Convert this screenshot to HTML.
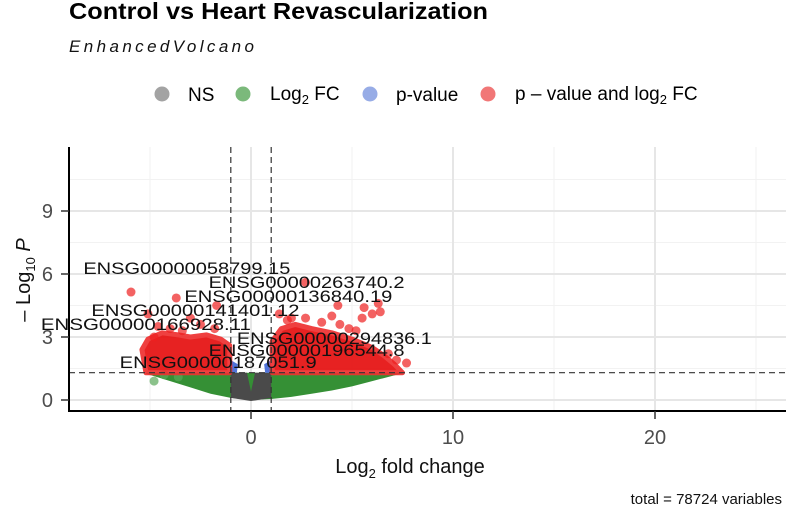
<!DOCTYPE html>
<html><head><meta charset="utf-8"><style>
body{margin:0;background:#fff;}
svg{display:block;font-family:"Liberation Sans",sans-serif;}
</style></head><body>
<svg id="chart" width="786" height="512" viewBox="0 0 786 512">
<text x="69" y="19" font-size="23" font-weight="bold" fill="#000" textLength="419" lengthAdjust="spacingAndGlyphs">Control vs Heart Revascularization</text>
<text x="69" y="52" font-size="17" font-style="italic" fill="#111" textLength="185" lengthAdjust="spacing">EnhancedVolcano</text>
<g>
 <g><circle cx="162" cy="94" r="7.5" fill="#8c8c8c" opacity="0.8"/><text x="188" y="101" font-size="19">NS</text></g>
 <g><circle cx="243" cy="94" r="7.5" fill="#5aa85a" opacity="0.8"/><text x="270" y="100" font-size="19">Log<tspan font-size="13" dy="4">2</tspan><tspan dy="-4"> FC</tspan></text></g>
 <g><circle cx="370" cy="94" r="7.5" fill="#7d97e0" opacity="0.8"/><text x="396" y="101" font-size="19">p-value</text></g>
 <g><circle cx="488" cy="94" r="7.5" fill="#ee5555" opacity="0.8"/><text x="515" y="100" font-size="19">p – value and log<tspan font-size="13" dy="4">2</tspan><tspan dy="-4"> FC</tspan></text></g>
</g>
<g id="grid"></g>
<g id="marks"></g>
<g id="thresholds"></g>
<g id="labels"></g>
<g id="axes"></g>
<text x="410" y="473" font-size="20" text-anchor="middle" fill="#111">Log<tspan font-size="13" dy="5">2</tspan><tspan dy="-5"> fold change</tspan></text>
<text transform="translate(30,280) rotate(-90)" font-size="20" text-anchor="middle" fill="#111">– Log<tspan font-size="13" dy="5">10</tspan><tspan dy="-5" font-style="italic"> P</tspan></text>
<text x="782" y="504" font-size="15" text-anchor="end" fill="#111">total = 78724 variables</text>
</svg>
<script>
const xTicks=[0,10,20];
const xMinor=[-5,5,15,25];
const yTicks=[0,3,6,9];
const yMinor=[1.5,4.5,7.5,10.5];
const fcCut=[-1,1];
const pCut=1.3;
// green band: lower edge of cloud (x, lowest -log10P)
const greenX=[-5.2,-4.5,-4,-3,-2,-1,0,1,2,3,4,5,6,7,7.6];
const greenLow=[1.25,1.05,0.9,0.6,0.3,0.1,0,0.05,0.15,0.3,0.45,0.65,0.9,1.15,1.3];
// red dense cloud envelope
const redLeftX=[-5.2,-5.4,-5.1,-4.4,-3.6,-3,-2.2,-1.5,-1.05,-1.05];
const redLeftY=[1.3,2.4,2.9,3.2,3.1,3.0,3.1,2.9,2.6,1.3];
const redRightX=[1.05,1.05,1.5,2.2,3,4,5,6,6.6,7.1,7.5];
const redRightY=[1.3,2.8,3.4,3.6,3.4,3.2,2.9,2.5,2.1,1.7,1.3];
// red outlier points
const redPtX=[-5.94,-3.7,-1.7,2.7,4.3,5.6,6.3,6.4,6.0,5.5,4.0,4.85,4.4,7.7,1.4,2.7,-3.0,-5.1,-4.6,-2.5,-4.0,2.0,3.5,5.2,6.8,7.2,1.8,-1.8,-3.4,-4.8];
const redPtY=[5.14,4.86,4.5,5.6,4.5,4.4,4.6,4.2,4.1,3.9,4.0,3.4,3.6,1.76,4.1,3.9,3.9,4.1,3.5,3.6,3.4,3.9,3.7,3.3,2.2,1.9,3.8,3.4,3.3,3.0];
const greenPtX=[-4.8,-4.3,-3.6];
const greenPtY=[0.9,1.2,1.1];
const labelNames=["ENSG00000058799.15","ENSG00000263740.2","ENSG00000136840.19","ENSG00000141401.12","ENSG00000166928.11","ENSG00000294836.1","ENSG00000196544.8","ENSG00000187051.9"];
const labelX=[-8.3,-2.1,-3.3,-7.9,-10.4,-0.7,-2.1,-6.5];
const labelY=[6.29,5.62,4.95,4.29,3.62,2.95,2.38,1.81];
const labelW=[207,196,208,208,210,195,196,197];

const X0=251,XS=20.2,Y0=400,YS=21;
const L=69,R=786,T=147,B=411;
const sx=v=>X0+v*XS, sy=v=>Y0-v*YS;
const NS="http://www.w3.org/2000/svg";
function mk(tag,attrs,parent){const e=document.createElementNS(NS,tag);for(const k in attrs)e.setAttribute(k,attrs[k]);parent.appendChild(e);return e;}
const grid=document.getElementById('grid'),marks=document.getElementById('marks'),th=document.getElementById('thresholds'),labs=document.getElementById('labels'),axes=document.getElementById('axes');
xMinor.forEach(v=>{const l=mk('line',{x1:sx(v),x2:sx(v),y1:T,y2:B,stroke:'#f2f2f2','stroke-width':1},grid);

});
yMinor.forEach(v=>{const l=mk('line',{x1:L,x2:R,y1:sy(v),y2:sy(v),stroke:'#f2f2f2','stroke-width':1},grid);

});
xTicks.forEach(v=>{const l=mk('line',{x1:sx(v),x2:sx(v),y1:T,y2:B,stroke:'#e6e6e6','stroke-width':2},grid);

});
yTicks.forEach(v=>{const l=mk('line',{x1:L,x2:R,y1:sy(v),y2:sy(v),stroke:'#e6e6e6','stroke-width':2},grid);

});
let gp=greenX.map((x,i)=>sx(x)+','+sy(greenLow[i])).join(' ')+' '+sx(7.6)+','+sy(pCut)+' '+sx(-5.2)+','+sy(pCut);
const g=mk('polygon',{points:gp,fill:'#2a8a2a',opacity:0.95},marks);


greenPtX.forEach((x,i)=>{const c=mk('circle',{cx:sx(x),cy:sy(greenPtY[i]),r:4.5,fill:'#5aa85a',opacity:0.7},marks);

});
const ns=mk('polygon',{points:[[fcCut[0],pCut],[fcCut[0],0.1],[0,-0.05],[fcCut[1],0.1],[fcCut[1],pCut],[0.2,pCut],[0,0.4],[-0.2,pCut]].map(p=>sx(p[0])+','+sy(p[1])).join(' '),fill:'#4a4a4a'},marks);


[[fcCut[0]],[fcCut[1]]].forEach((f,i)=>{const s=i?-1:1;const b=mk('polygon',{points:[[f[0],pCut],[f[0],1.9],[f[0]+s*0.35,1.7],[f[0]+s*0.3,pCut]].map(p=>sx(p[0])+','+sy(p[1])).join(' '),fill:'#4f73d9'},marks);

});
const rl=mk('polygon',{points:redLeftX.map((x,i)=>sx(x)+','+sy(redLeftY[i])).join(' '),fill:'#e61010','stroke':'#ee3030','stroke-width':5,'stroke-linejoin':'round',opacity:0.92},marks);


const rr=mk('polygon',{points:redRightX.map((x,i)=>sx(x)+','+sy(redRightY[i])).join(' '),fill:'#e61010','stroke':'#ee3030','stroke-width':5,'stroke-linejoin':'round',opacity:0.92},marks);


redPtX.forEach((x,i)=>{const c=mk('circle',{cx:sx(x),cy:sy(redPtY[i]),r:4.5,fill:'#ee2020',opacity:0.7},marks);

});
fcCut.forEach(v=>{const l=mk('line',{x1:sx(v),x2:sx(v),y1:T,y2:B,stroke:'#333','stroke-width':1.2,'stroke-dasharray':'6,4'},th);

});
const hl=mk('line',{x1:L,x2:R,y1:sy(pCut),y2:sy(pCut),stroke:'#333','stroke-width':1.2,'stroke-dasharray':'6,4'},th);


labelNames.forEach((n,i)=>{const t=mk('text',{x:sx(labelX[i]),y:sy(labelY[i])+6,'font-size':17,fill:'#111',textLength:labelW[i],lengthAdjust:'spacingAndGlyphs'},labs);t.textContent=n;

});
const ya=mk('line',{x1:L,x2:L,y1:T,y2:B+1,stroke:'#000','stroke-width':2},axes);


const xa=mk('line',{x1:L-1,x2:R,y1:B,y2:B,stroke:'#000','stroke-width':2},axes);


yTicks.forEach(v=>{const tk=mk('line',{x1:L-8,x2:L,y1:sy(v),y2:sy(v),stroke:'#333','stroke-width':1.5},axes);


const t=mk('text',{x:53,y:sy(v)+7,'font-size':20,'text-anchor':'end',fill:'#4d4d4d'},axes);t.textContent=v;

});
xTicks.forEach(v=>{const tk=mk('line',{x1:sx(v),x2:sx(v),y1:B,y2:B+8,stroke:'#333','stroke-width':1.5},axes);


const t=mk('text',{x:sx(v),y:444,'font-size':20,'text-anchor':'middle',fill:'#4d4d4d'},axes);t.textContent=v;

});
</script>
</body></html>
